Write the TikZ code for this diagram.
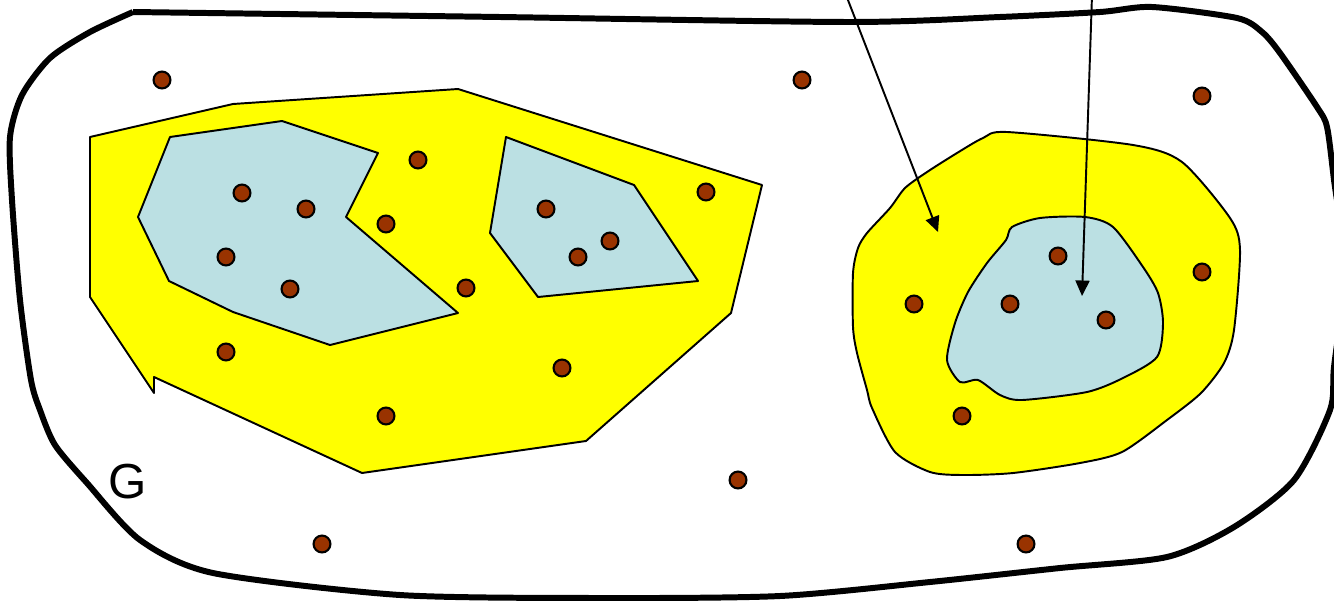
\documentclass[tikz,border=0pt]{standalone}
\usepackage{fontspec}
\newfontfamily\labelfont{Liberation Sans}
\usetikzlibrary{arrows.meta}
\definecolor{dotbrown}{RGB}{153,51,0}
\definecolor{coreblue}{RGB}{187,224,227}
\definecolor{regionyellow}{RGB}{255,255,0}
\tikzset{
  boundary/.style={line width=1.7pt,line join=round},
  region/.style={draw,fill=regionyellow,line width=0.55pt,line join=round},
  core/.style={draw,fill=coreblue,line width=0.55pt,line join=round},
  vertex/.style={circle,draw,fill=dotbrown,line width=0.6pt,inner sep=0pt,minimum size=4.8pt},
  pointer/.style={line width=0.55pt,-{Triangle[length=4.4pt,width=4pt]}}
}
\begin{document}
\begin{tikzpicture}[x=0.01cm,y=-0.01cm]
  \useasboundingbox (0,0) rectangle (1334,600);
  \clip (0,0) rectangle (1334,600);
  % outer graph boundary
  \draw[boundary] plot[smooth,tension=0.45] coordinates {
    (133,12) (500,17) (850,22) (1000,17) (1100,12) (1152,7) (1237,18)
    (1262,32) (1280,53) (1317,107) (1327,127) (1334,180) (1345,270)
    (1334,367) (1330,410) (1294,480) (1234,527) (1167,557) (1060,568)
    (930,582) (780,596) (600,598) (400,595) (213,573) (140,540)
    (87,483) (55,445) (40,410) (31,380) (20,300) (12,200) (10,137)
    (22,95) (50,58) (90,32) (133,12)};
  % left region
  \draw[region] (90,137) -- (233,104) -- (458,89) -- (762,185) -- (731,313)
    -- (586,441) -- (362,473) -- (154,377) -- (154,393) -- (90,297) -- cycle;
  \draw[core] (170,137) -- (282,121) -- (378,153) -- (346,217) -- (458,313)
    -- (330,345) -- (233,312) -- (169,281) -- (138,217) -- cycle;
  \draw[core] (506,137) -- (634,185) -- (698,281) -- (538,297) -- (490,233) -- cycle;
  % right region
  \draw[region] plot[smooth cycle,tension=0.45] coordinates {
    (1007,132) (1133,145) (1182,162) (1230,218) (1240,250) (1234,330)
    (1224,363) (1201,393) (1167,420) (1122,452) (1080,463) (1013,473)
    (963,475) (930,472) (895,452) (872,408) (867,390) (857,353)
    (853,327) (853,273) (858,248) (867,233) (890,208) (905,188)
    (927,172) (957,153) (983,138)};
  \draw[core] plot[smooth cycle,tension=0.45] coordinates {
    (1012,227) (1040,218) (1085,217) (1113,227) (1143,267) (1158,293)
    (1163,323) (1157,357) (1123,378) (1087,392) (1022,400) (1000,395)
    (978,380) (960,382) (947,360) (955,323) (968,292) (987,263)
    (1006,240)};
  % vertices
  \foreach \x/\y [count=\i] in {162/80,802/80,1202/96,242/193,306/209,
      226/257,290/289,418/160,386/224,466/288,226/352,386/416,562/368,
      706/192,546/209,578/257,610/241,914/304,962/416,1202/272,1058/256,
      1010/304,1106/320,738/480,322/544,1026/544}
    \node[vertex] (v\i) at (\x,\y) {};
  % arrows from outside
  \coordinate (src1) at (846,-5);
  \coordinate (tip1) at (938,232);
  \coordinate (src2) at (1092,-5);
  \coordinate (tip2) at (1082,296);
  \draw[pointer] (src1) -- (tip1);
  \draw[pointer] (src2) -- (tip2);
  \node[font=\labelfont\fontsize{14}{16}\selectfont] (glabel) at (128,482) {G};
\end{tikzpicture}
\end{document}
